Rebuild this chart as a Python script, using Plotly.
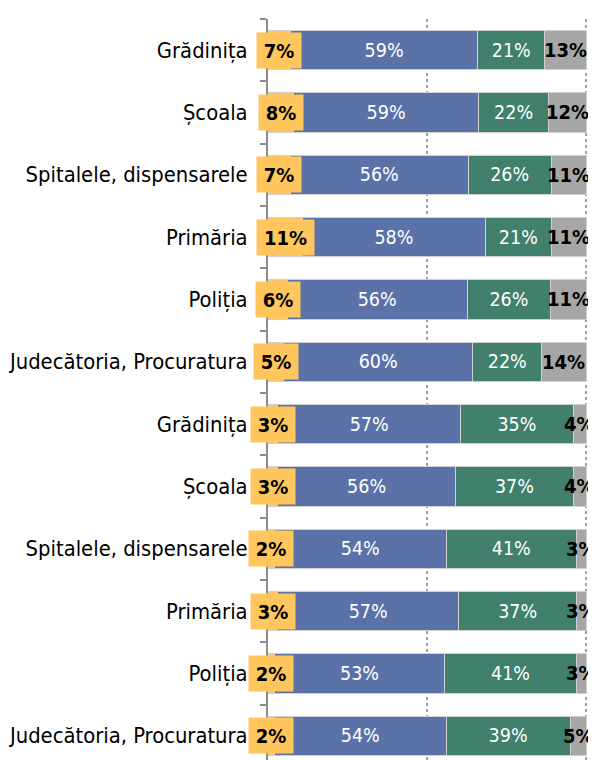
import plotly.graph_objects as go

categories = ["Grădinița", "Școala", "Spitalele, dispensarele", "Primăria", "Poliția",
              "Judecătoria, Procuratura",
              "Grădinița", "Școala", "Spitalele, dispensarele", "Primăria", "Poliția",
              "Judecătoria, Procuratura"]
yellow_vals = [7, 8, 7, 11, 6, 5, 3, 3, 2, 3, 2, 2]
blue_vals = [59, 59, 56, 58, 56, 60, 57, 56, 54, 57, 53, 54]
green_vals = [21, 22, 26, 21, 26, 22, 35, 37, 41, 37, 41, 39]
gray_vals = [13, 12, 11, 11, 11, 14, 4, 4, 3, 3, 3, 5]

YELLOW = "#FFC65E"
BLUE = "#5B72A8"
GREEN = "#40806C"
GRAY = "#A6A6A6"
FONT = "DejaVu Sans Condensed, DejaVu Sans, sans-serif"

ys = list(range(len(categories)))
totals = [a + b + c + d for a, b, c, d in zip(yellow_vals, blue_vals, green_vals, gray_vals)]

fig = go.Figure()
series = [(yellow_vals, YELLOW, False), (blue_vals, BLUE, True),
          (green_vals, GREEN, True), (gray_vals, GRAY, False)]
for vals, col, show_text in series:
    fig.add_trace(go.Bar(
        y=ys, x=vals, orientation="h",
        marker=dict(color=col, line=dict(color="#D0D0D0", width=1)),
        text=[f"{v}%" for v in vals] if show_text else None,
        textposition="inside" if show_text else "none",
        insidetextanchor="middle", textangle=0, constraintext="none",
        textfont=dict(color="white", size=19.5, family=FONT),
        hoverinfo="skip", showlegend=False,
    ))

annotations = []
for i, (yv, gv, t) in enumerate(zip(yellow_vals, gray_vals, totals)):
    ytxt = f"{yv}%"
    annotations.append(dict(
        x=yv / 2 / t * 100, y=i, xref="x", yref="y", showarrow=False,
        text=f"<b>{ytxt}</b>", font=dict(size=20, color="black", family=FONT),
        bgcolor=YELLOW, borderpad=3, width=13 * len(ytxt) + 12, height=29,
        xanchor="center", yanchor="middle"))
    annotations.append(dict(
        x=(t - gv / 2) / t * 100, y=i, xref="x", yref="y", showarrow=False,
        text=f"<b>{gv}%</b>", font=dict(size=20, color="black", family=FONT),
        xanchor="center", yanchor="middle"))

fig.update_layout(
    width=588, height=752,
    margin=dict(l=260, r=0, t=11, b=0),
    barmode="stack", barnorm="percent", bargap=0.37,
    plot_bgcolor="white", paper_bgcolor="white",
    annotations=annotations,
    font=dict(family=FONT, size=21, color="black"),
    xaxis=dict(range=[0, 103.14], tickvals=[0, 50, 100], showticklabels=False,
               showgrid=True, gridcolor="#A0A0A0", griddash="dot", gridwidth=2,
               zeroline=False, showline=False, ticks="", automargin=False),
    yaxis=dict(range=[len(categories) - 0.61, -0.5], tickvals=ys, ticktext=categories,
               ticks="", showline=True, linecolor="#8C8C8C", linewidth=2,
               showgrid=False, zeroline=False, ticklabelstandoff=14, automargin=False,
               tickfont=dict(size=21.8, color="black", family=FONT),
               minor=dict(tickvals=[i - 0.5 for i in range(len(categories) + 1)],
                          ticks="outside", ticklen=6, tickcolor="#8C8C8C", tickwidth=2,
                          showgrid=False)),
)

fig.write_html("out.html")
